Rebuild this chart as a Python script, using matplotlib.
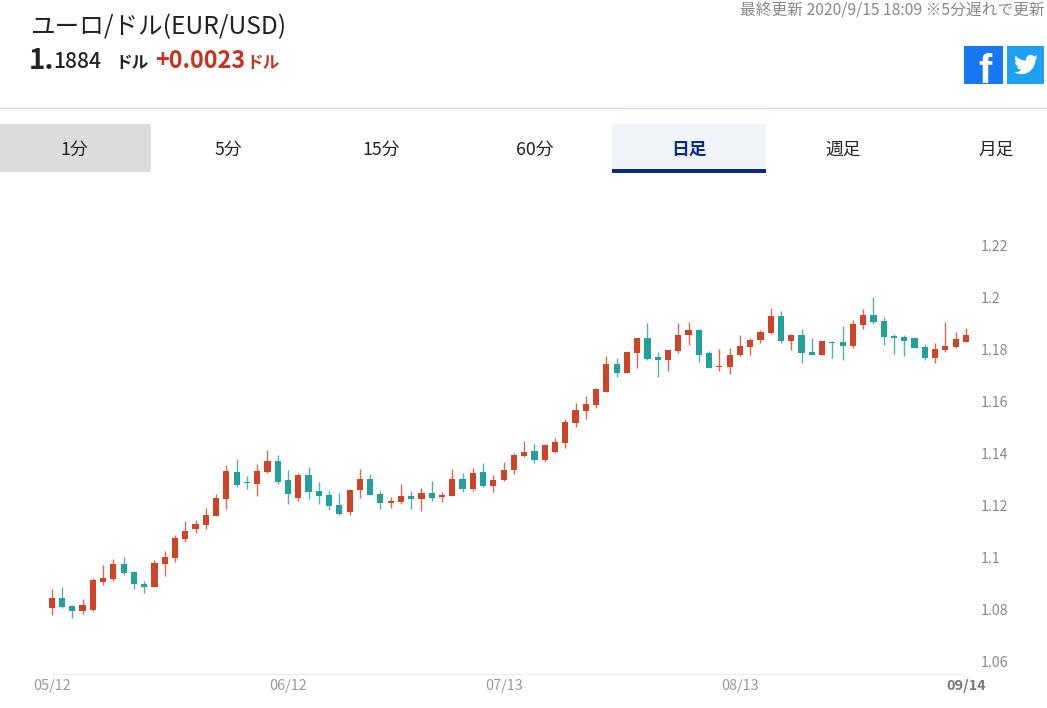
# coding:utf-8

import matplotlib
matplotlib.use('Agg')
import matplotlib.pyplot as plt
from matplotlib.patches import Rectangle, Polygon

plt.rcParams['font.family'] = ['Noto Sans CJK JP', 'DejaVu Sans']

# daily candles, EUR/USD
opens = [1.0805, 1.0842, 1.0813, 1.0792, 1.0796, 1.0905, 1.0915, 1.0973, 1.0942, 1.0896,
         1.0886, 1.0972, 1.0997, 1.1069, 1.1106, 1.1123, 1.1159, 1.1223, 1.1328, 1.1290,
         1.1282, 1.1328, 1.1369, 1.1296, 1.1227, 1.1315, 1.1255, 1.1240, 1.1201, 1.1174,
         1.1256, 1.1300, 1.1244, 1.1208, 1.1212, 1.1236, 1.1224, 1.1245, 1.1230, 1.1235,
         1.1300, 1.1263, 1.1327, 1.1273, 1.1296, 1.1335, 1.1389, 1.1406, 1.1372, 1.1404,
         1.1440, 1.1514, 1.1562, 1.1586, 1.1636, 1.1742, 1.1708, 1.1783, 1.1841, 1.1768,
         1.1756, 1.1794, 1.1854, 1.1873, 1.1783, 1.1730, 1.1732, 1.1778, 1.1806, 1.1833,
         1.1863, 1.1928, 1.1832, 1.1855, 1.1787, 1.1778, 1.1828, 1.1826, 1.1812, 1.1894,
         1.1930, 1.1908, 1.1850, 1.1846, 1.1844, 1.1808, 1.1765, 1.1796, 1.1806, 1.1827]
highs = [1.0878, 1.0883, 1.0815, 1.0838, 1.0918, 1.0968, 1.0991, 1.1000, 1.0945, 1.0908,
         1.0987, 1.1023, 1.1086, 1.1137, 1.1144, 1.1187, 1.1241, 1.1354, 1.1377, 1.1312,
         1.1358, 1.1413, 1.1392, 1.1333, 1.1324, 1.1345, 1.1287, 1.1254, 1.1245, 1.1260,
         1.1340, 1.1319, 1.1253, 1.1231, 1.1281, 1.1254, 1.1267, 1.1294, 1.1249, 1.1338,
         1.1324, 1.1341, 1.1363, 1.1315, 1.1367, 1.1399, 1.1446, 1.1435, 1.1436, 1.1458,
         1.1531, 1.1594, 1.1618, 1.1649, 1.1773, 1.1767, 1.1792, 1.1844, 1.1900, 1.1788,
         1.1796, 1.1899, 1.1906, 1.1876, 1.1792, 1.1800, 1.1804, 1.1856, 1.1841, 1.1872,
         1.1958, 1.1945, 1.1859, 1.1877, 1.1842, 1.1832, 1.1831, 1.1890, 1.1912, 1.1956,
         1.2000, 1.1922, 1.1859, 1.1855, 1.1845, 1.1818, 1.1822, 1.1906, 1.1867, 1.1881]
lows = [1.0777, 1.0804, 1.0767, 1.0782, 1.0794, 1.0894, 1.0909, 1.0931, 1.0878, 1.0863,
        1.0883, 1.0928, 1.0982, 1.1059, 1.1094, 1.1109, 1.1158, 1.1186, 1.1271, 1.1260,
        1.1236, 1.1323, 1.1282, 1.1205, 1.1217, 1.1222, 1.1203, 1.1179, 1.1163, 1.1163,
        1.1227, 1.1240, 1.1185, 1.1190, 1.1205, 1.1186, 1.1178, 1.1217, 1.1210, 1.1235,
        1.1251, 1.1255, 1.1271, 1.1249, 1.1294, 1.1318, 1.1386, 1.1363, 1.1367, 1.1399,
        1.1419, 1.1501, 1.1531, 1.1574, 1.1633, 1.1694, 1.1706, 1.1726, 1.1759, 1.1694,
        1.1715, 1.1786, 1.1814, 1.1749, 1.1727, 1.1715, 1.1705, 1.1772, 1.1777, 1.1824,
        1.1858, 1.1824, 1.1796, 1.1747, 1.1777, 1.1777, 1.1767, 1.1758, 1.1805, 1.1877,
        1.1895, 1.1815, 1.1781, 1.1773, 1.1803, 1.1758, 1.1747, 1.1790, 1.1805, 1.1826]
closes = [1.0842, 1.0809, 1.0794, 1.0815, 1.0912, 1.0919, 1.0973, 1.0940, 1.0895, 1.0885,
          1.0977, 1.1000, 1.1074, 1.1099, 1.1128, 1.1163, 1.1228, 1.1329, 1.1277, 1.1286,
          1.1331, 1.1369, 1.1290, 1.1244, 1.1315, 1.1251, 1.1236, 1.1197, 1.1165, 1.1259,
          1.1300, 1.1240, 1.1208, 1.1214, 1.1235, 1.1224, 1.1245, 1.1228, 1.1240, 1.1300,
          1.1263, 1.1324, 1.1273, 1.1295, 1.1336, 1.1392, 1.1405, 1.1373, 1.1431, 1.1441,
          1.1518, 1.1564, 1.1587, 1.1646, 1.1742, 1.1709, 1.1788, 1.1841, 1.1763, 1.1756,
          1.1795, 1.1856, 1.1872, 1.1777, 1.1728, 1.1735, 1.1779, 1.1810, 1.1835, 1.1867,
          1.1928, 1.1830, 1.1855, 1.1786, 1.1778, 1.1830, 1.1823, 1.1812, 1.1896, 1.1930,
          1.1905, 1.1847, 1.1844, 1.1832, 1.1804, 1.1767, 1.1799, 1.1810, 1.1840, 1.1856]

x_ticks = [0, 23, 44, 67, 89]
x_labels = ['05/12', '06/12', '07/13', '08/13', '09/14']
y_ticks = [1.06, 1.08, 1.10, 1.12, 1.14, 1.16, 1.18, 1.20, 1.22]
y_labels = ['1.06', '1.08', '1.1', '1.12', '1.14', '1.16', '1.18', '1.2', '1.22']
tabs = ['1分', '5分', '15分', '60分', '日足', '週足', '月足']
tab_x = [74, 228, 381, 535, 689, 843, 996]

UP = '#cf4327'
DOWN = '#21a199'
W, H = 1047, 708


def draw_page(bg):
    bg.set_xlim(0, W)
    bg.set_ylim(H, 0)
    bg.axis('off')

    bg.text(30, 27, 'ユーロ/ドル(EUR/USD)', fontsize=17.7, color='#222222', va='center')
    bg.text(29, 61, '1.', fontsize=20, fontweight='bold', color='#222222', va='center')
    bg.text(53, 62, '1884', fontsize=15.2, fontweight='medium', color='#222222', va='center')
    bg.text(115, 63, 'ドル', fontsize=12, fontweight='bold', color='#222222', va='center')
    bg.text(155, 61, '+0.0023', fontsize=16.9, fontweight='bold', color='#c8321e', va='center')
    bg.text(246, 63, 'ドル', fontsize=12, fontweight='bold', color='#c8321e', va='center')
    bg.text(1045, 11, '最終更新 2020/9/15 18:09 ※5分遅れで更新', fontsize=11.3,
            color='#888888', va='center', ha='right')

    # share buttons
    fb = Rectangle((964, 46), 39, 38, color='#1877f2', lw=0)
    bg.add_patch(fb)
    f = bg.text(985, 72, 'f', fontsize=29, fontweight='bold', color='white',
                family='Liberation Sans', ha='center', va='center')
    f.set_clip_path(fb)
    bg.add_patch(Rectangle((1007, 46), 37, 38, color='#1da1f2', lw=0))
    bird = [(23.95, 4.57), (21.13, 5.35), (23.29, 2.62), (20.16, 3.81), (18.4, 2.7), (16.5, 2.25),
            (14.2, 2.9), (12.4, 4.8), (11.8, 6.5), (11.9, 8.29), (7.0, 7.2), (3.9, 5.4), (1.64, 3.16),
            (0.97, 5.64), (1.5, 8.0), (3.16, 9.73), (0.93, 9.12), (1.5, 11.6), (2.9, 13.0), (4.88, 14.0),
            (2.67, 14.09), (4.0, 16.0), (7.27, 17.5), (4.5, 19.2), (1.17, 19.54), (0.0, 19.47),
            (3.5, 21.1), (7.56, 21.68), (12.3, 20.9), (16.2, 18.7), (19.1, 15.2), (20.9, 11.3), (21.55, 7.7),
            (21.54, 7.07)]
    bg.add_patch(Polygon([(1014 + 1.0 * p[0], 52.5 + 1.0 * p[1]) for p in bird], color='white', lw=0))

    bg.plot([0, W], [108, 108], color='#dddddd', lw=1)

    # tabs
    bg.add_patch(Rectangle((0, 124), 151, 48, color='#dcdcdc', lw=0))
    bg.add_patch(Rectangle((612, 124), 154, 48, color='#f0f3f8', lw=0))
    bg.add_patch(Rectangle((612, 169), 154, 4, color='#0b2a80', lw=0))
    for i in range(len(tabs)):
        if tabs[i] == '日足':
            bg.text(tab_x[i], 149.5, tabs[i], fontsize=12.8, fontweight='bold', color='#0b2a80',
                    ha='center', va='center')
        else:
            bg.text(tab_x[i], 149.5, tabs[i], fontsize=12.8, color='#222222', ha='center', va='center')


def draw_chart(ax):
    xs = list(range(len(opens)))
    colors = [UP if closes[i] >= opens[i] else DOWN for i in xs]
    bottoms = [min(opens[i], closes[i]) for i in xs]
    heights = [abs(closes[i] - opens[i]) for i in xs]
    ax.vlines(xs, lows, highs, colors=colors, lw=1.0, alpha=0.8)
    ax.bar(xs, heights, bottom=bottoms, width=0.6, color=colors, lw=0)

    ax.set_xlim(-0.5, 89.5)
    ax.set_ylim(1.055, 1.2258)
    for s in ['top', 'left', 'right']:
        ax.spines[s].set_visible(False)
    ax.spines['bottom'].set_color('#eeeeee')
    ax.spines['bottom'].set_bounds(0, 89)
    ax.yaxis.tick_right()
    ax.set_yticks(y_ticks)
    ax.set_yticklabels(y_labels, fontsize=10.2, color='#888888')
    ax.set_xticks(x_ticks)
    ax.set_xticklabels(x_labels, fontsize=10.4, color='#999999')
    ax.get_xticklabels()[-1].set_color('#777777')
    ax.get_xticklabels()[-1].set_fontweight('bold')
    ax.tick_params(axis='both', length=0)
    ax.tick_params(axis='x', pad=3.5)
    ax.tick_params(axis='y', pad=7)
    for t in ax.get_yticklabels():
        t.set_y(t.get_position()[1])
    ax.patch.set_alpha(0)


if __name__ == '__main__':
    fig = plt.figure(figsize=(W / 100, H / 100), dpi=100)
    bg = fig.add_axes([0, 0, 1, 1])
    draw_page(bg)
    # axes box in page pixels: x 46.6..971, y 230..674
    ax = fig.add_axes([46.6 / W, (H - 674) / H, (971 - 46.6) / W, 444 / H])
    draw_chart(ax)
    fig.savefig('out.png', dpi=100)
